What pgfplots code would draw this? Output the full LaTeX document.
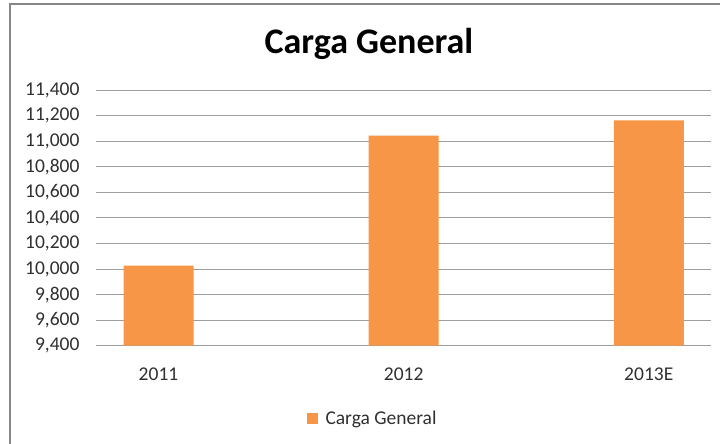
\documentclass[border=0pt]{standalone}
\usepackage{fontspec}
\setmainfont{Carlito}
\usepackage{pgfplots}
\pgfplotsset{compat=1.18}
\definecolor{barc}{HTML}{F79646}
\definecolor{gridc}{HTML}{9E9E9E}
\definecolor{framec}{HTML}{868686}
\definecolor{txt}{HTML}{303030}
\begin{document}
\begin{tikzpicture}[x=1bp,y=1bp]
\path[use as bounding box, clip] (0,0) rectangle (720,444);
\fill[white] (0,0) rectangle (720,444);
\draw[framec, line width=2bp] (10,-20) -- (10,439.5) -- (740,439.5);
\node[anchor=base, font=\fontsize{36bp}{40bp}\selectfont\bfseries, text=black, inner sep=0pt] at (369,390.5) {Carga General};
\begin{axis}[
  at={(96bp,98.3bp)}, anchor=south west,
  scale only axis, width=615bp, height=255.5bp,
  ybar, bar width=70bp,
  xmin=-0.255, xmax=2.254,
  ymin=9400, ymax=11400,
  ytick={9400,9600,...,11400},
  xtick={0,1,2}, xticklabels={2011,2012,2013E},
  axis line style={draw=none},
  major tick length=0pt,
  ymajorgrids, grid style={gridc, line width=1bp},
  scaled y ticks=false,
  /pgf/number format/.cd, 1000 sep={,}, fixed, assume math mode=true,
  /pgfplots/.cd,
  tick label style={font=\fontsize{19.5bp}{22bp}\selectfont, text=txt},
  yticklabel style={anchor=east, xshift=-13bp},
  xticklabel style={anchor=north, yshift=-19bp},
  legend style={at={(0.45,-0.285)}, anchor=center, draw=none, fill=none,
    font=\fontsize{19.5bp}{22bp}\selectfont, text=txt, inner sep=0pt,
    /tikz/every odd column/.append style={column sep=6bp},
    /tikz/every even column/.append style={column sep=0pt}},
  legend image code/.code={\fill[barc] (0bp,-5bp) rectangle (10.5bp,5.5bp);},
]
\addplot[fill=barc, draw=none] coordinates {(0,10026) (1,11045) (2,11163)};
\addlegendentry{Carga General}
\end{axis}
\end{tikzpicture}
\end{document}
